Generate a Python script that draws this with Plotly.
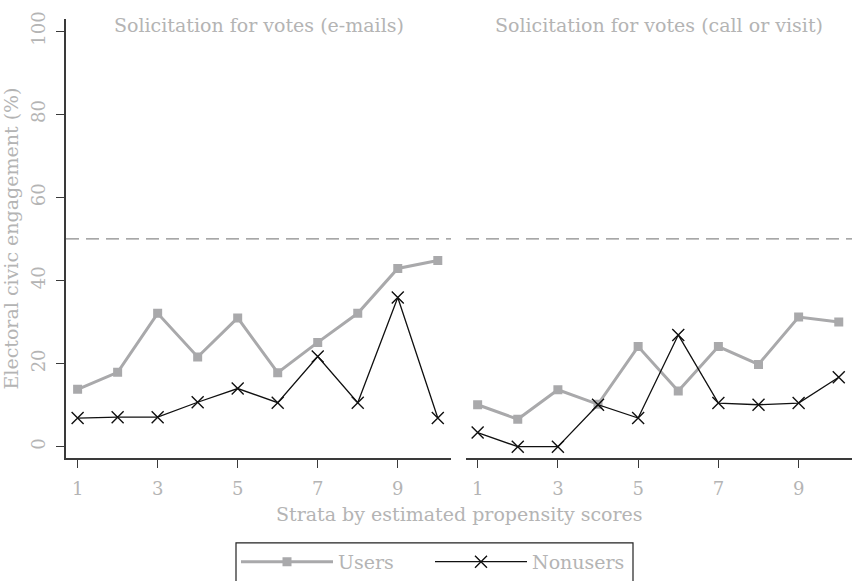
import plotly.graph_objects as go
from plotly.subplots import make_subplots

# Strata (deciles of the estimated propensity score)
strata = [1, 2, 3, 4, 5, 6, 7, 8, 9, 10]

# Solicitation for votes by e-mail (% engaged)
email_users = [13.8, 17.9, 32.1, 21.6, 31.0, 17.8, 25.1, 32.1, 42.9, 44.8]
email_nonusers = [6.9, 7.1, 7.1, 10.7, 14.0, 10.6, 21.7, 10.6, 35.9, 6.9]

# Solicitation for votes by call or visit (% engaged)
visit_users = [10.1, 6.6, 13.7, 10.2, 24.1, 13.4, 24.1, 19.8, 31.2, 30.0]
visit_nonusers = [3.4, 0.0, 0.0, 10.1, 6.9, 26.9, 10.5, 10.1, 10.5, 16.7]

panel_titles = ["Solicitation for votes (e-mails)", "Solicitation for votes (call or visit)"]
x_ticks = [1, 3, 5, 7, 9]
y_ticks = [0, 20, 40, 60, 80, 100]
reference_level = 50

FONT = "DejaVu Serif"
TEXT_GREY = "#b4b4b4"
AXIS_COLOR = "#3a3a3a"
USERS_GREY = "#a9a9ab"

fig = make_subplots(rows=1, cols=2, shared_yaxes=False)

panels = [(email_users, email_nonusers), (visit_users, visit_nonusers)]
for i, (users, nonusers) in enumerate(panels, start=1):
    fig.add_trace(go.Scatter(
        x=strata, y=users, mode="lines+markers", name="Users",
        line=dict(color=USERS_GREY, width=3),
        marker=dict(symbol="square", size=9, color=USERS_GREY),
        showlegend=(i == 1), legendgroup="users", legend="legend",
    ), row=1, col=i)
    fig.add_trace(go.Scatter(
        x=strata, y=nonusers, mode="lines+markers", name="Nonusers",
        line=dict(color="#111111", width=1.3),
        marker=dict(symbol="x-thin-open", size=12, color="#111111",
                    line=dict(color="#111111", width=1.4)),
        showlegend=(i == 1), legendgroup="nonusers", legend="legend2",
    ), row=1, col=i)

H = 581.0
W = 858.0
y_dom = [1 - 463.3 / H, 1 - 12 / H]
x_common = dict(
    range=[0.71, 10.33], tickvals=x_ticks, ticks="outside", ticklen=8,
    tickcolor=AXIS_COLOR, tickwidth=1.3, showline=True, linecolor=AXIS_COLOR,
    linewidth=1.5, showgrid=False, zeroline=False, ticklabelstandoff=5,
    tickfont=dict(family=FONT, size=18, color=TEXT_GREY),
)
fig.update_xaxes(**x_common)
fig.update_layout(
    xaxis=dict(domain=[66 / W, 451 / W]),
    xaxis2=dict(domain=[466 / W, 852 / W]),
    yaxis=dict(
        domain=y_dom, range=[-2.8, 103], tickvals=y_ticks, ticks="outside",
        ticklen=8, tickcolor=AXIS_COLOR, tickwidth=1.3, showline=True,
        linecolor=AXIS_COLOR, linewidth=1.5, showgrid=False, zeroline=False,
        tickangle=-90, ticklabelstandoff=4,
        tickfont=dict(family=FONT, size=18, color=TEXT_GREY),
        title=dict(text="Electoral civic engagement (%)", standoff=6,
                   font=dict(family=FONT, size=19, color=TEXT_GREY)),
    ),
    yaxis2=dict(
        domain=y_dom, range=[-2.8, 103], showline=False, showgrid=False,
        zeroline=False, showticklabels=False, ticks="",
    ),
)

# Reference line at 50% across each panel
for xr, yr in (("x domain", "y"), ("x2 domain", "y2")):
    fig.add_shape(type="line", xref=xr, yref=yr, x0=0, x1=1,
                  y0=reference_level, y1=reference_level,
                  line=dict(color="#8a8a8a", width=1.3, dash="13px,7px"))

# Panel titles
for xr, title in (("x domain", panel_titles[0]), ("x2 domain", panel_titles[1])):
    fig.add_annotation(text=title, xref=xr, x=0.5, yref="paper", y=1 - 18 / H,
                       yanchor="middle", showarrow=False,
                       font=dict(family=FONT, size=19, color=TEXT_GREY))

# Shared x-axis title
fig.add_annotation(text="Strata by estimated propensity scores", xref="paper",
                   x=459 / W, yref="paper", y=1 - 520 / H, yanchor="middle",
                   showarrow=False, font=dict(family=FONT, size=19, color=TEXT_GREY))

# One frame around both legend entries
fig.add_shape(type="rect", xref="paper", yref="paper",
              x0=236 / W, x1=633 / W, y0=1 - 550 / H, y1=-0.1,
              line=dict(color="#222222", width=1.2), fillcolor="rgba(0,0,0,0)")

legend_common = dict(
    orientation="h", xanchor="left", y=1 - 550 / H, yanchor="top",
    borderwidth=0, bgcolor="rgba(0,0,0,0)", itemwidth=92,
    font=dict(family=FONT, size=19, color=TEXT_GREY),
)

fig.update_layout(
    width=858, height=581, margin=dict(l=0, r=0, t=0, b=0),
    paper_bgcolor="white", plot_bgcolor="white",
    showlegend=True,
    legend=dict(x=236 / W, **legend_common),
    legend2=dict(x=430 / W, **legend_common),
)

fig.write_html("out.html")
